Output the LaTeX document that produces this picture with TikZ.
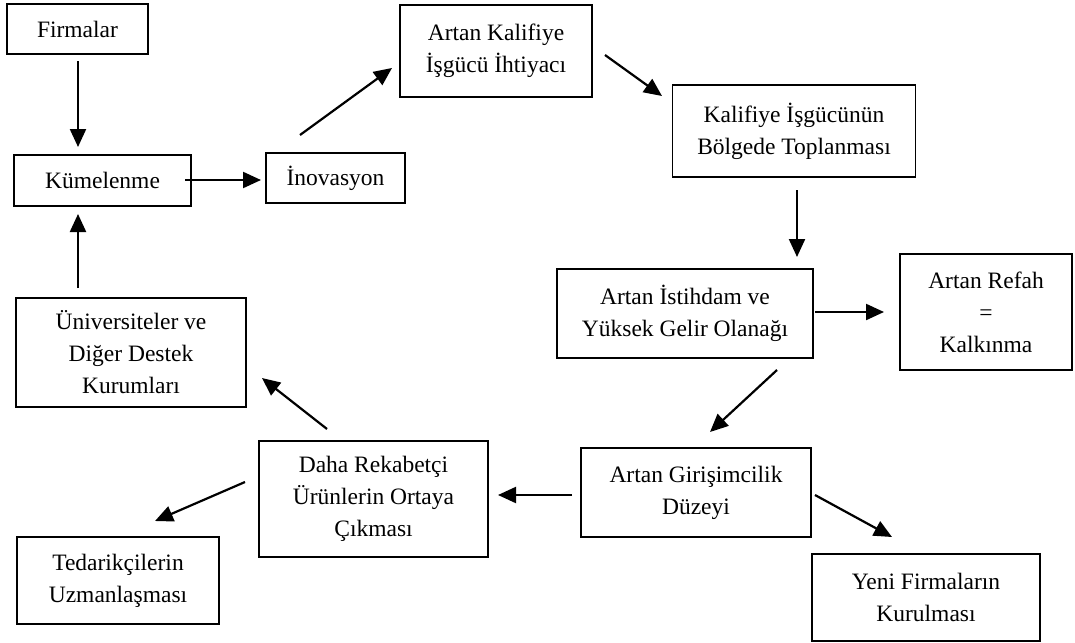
\documentclass[tikz,border=0pt]{standalone}
\usepackage{fontspec}
\setmainfont{Liberation Serif}
\usetikzlibrary{arrows.meta}
\begin{document}
\begin{tikzpicture}[x=1pt,y=-1pt,
  box/.style={draw=black,line width=1.6pt,align=center,inner sep=0pt,
    font=\fontsize{23.5}{32}\selectfont},
  flow/.style={line width=2.2pt,-{Triangle[length=18pt,width=16pt]}}]
\useasboundingbox (0,0) rectangle (1075,642);

% boxes
\node[box,minimum width=141,minimum height=50] (firm) at (77.5,29) {Firmalar};
\node[box,minimum width=177,minimum height=51] (kume) at (102.5,180.5) {Kümelenme};
\node[box,minimum width=139,minimum height=50] (inov) at (335.5,178) {İnovasyon};
\node[box,minimum width=192,minimum height=92] (akal) at (496,51) {Artan Kalifiye\\İşgücü İhtiyacı};
\node[box,minimum width=243,minimum height=92] (kisg) at (794,131) {Kalifiye İşgücünün\\Bölgede Toplanması};
\node[box,minimum width=256,minimum height=89] (isti) at (685,313.5) {Artan İstihdam ve\\Yüksek Gelir Olanağı};
\node[box,minimum width=172,minimum height=116] (refah) at (986,312) {Artan Refah\\=\\Kalkınma};
\node[box,minimum width=230,minimum height=109] (univ) at (131,352.5) {Üniversiteler ve\\Diğer Destek\\Kurumları};
\node[box,minimum width=229,minimum height=116] (rekab) at (373.5,499) {Daha Rekabetçi\\Ürünlerin Ortaya\\Çıkması};
\node[box,minimum width=230,minimum height=89] (giris) at (696,492.5) {Artan Girişimcilik\\Düzeyi};
\node[box,minimum width=202,minimum height=87] (tedar) at (118,580.5) {Tedarikçilerin\\Uzmanlaşması};
\node[box,minimum width=228,minimum height=87] (yeni) at (926,597.5) {Yeni Firmaların\\Kurulması};

% arrow end points
\coordinate (a1s) at (78,61);   \coordinate (a1e) at (78,147);
\coordinate (a2s) at (185,180); \coordinate (a2e) at (261,180);
\coordinate (a3s) at (300,135); \coordinate (a3e) at (392,68);
\coordinate (a4s) at (605,55);  \coordinate (a4e) at (662,96);
\coordinate (a5s) at (797,190); \coordinate (a5e) at (797,257);
\coordinate (a6s) at (815,312); \coordinate (a6e) at (884,312);
\coordinate (a7s) at (777,370); \coordinate (a7e) at (710,432);
\coordinate (a8s) at (815,495); \coordinate (a8e) at (892,537);
\coordinate (a9s) at (572,495); \coordinate (a9e) at (498,495);
\coordinate (a10s) at (327,429); \coordinate (a10e) at (262,378);
\coordinate (a11s) at (245,482); \coordinate (a11e) at (155,521);
\coordinate (a12s) at (78,288); \coordinate (a12e) at (78,214);

% connectors
\draw[flow] (a1s) -- (a1e);
\draw[flow] (a2s) -- (a2e);
\draw[flow] (a3s) -- (a3e);
\draw[flow] (a4s) -- (a4e);
\draw[flow] (a5s) -- (a5e);
\draw[flow] (a6s) -- (a6e);
\draw[flow] (a7s) -- (a7e);
\draw[flow] (a8s) -- (a8e);
\draw[flow] (a9s) -- (a9e);
\draw[flow] (a10s) -- (a10e);
\draw[flow] (a11s) -- (a11e);
\draw[flow] (a12s) -- (a12e);
\end{tikzpicture}
\end{document}
